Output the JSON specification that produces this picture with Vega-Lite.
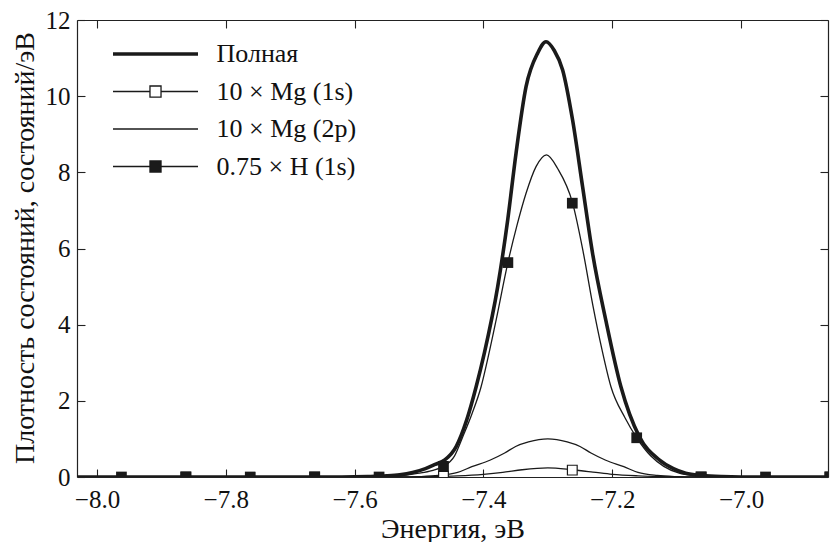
{
  "$schema": "https://vega.github.io/schema/vega-lite/v6.json",
  "width": 751,
  "height": 457,
  "autosize": {"type": "none"},
  "padding": {"left": 77, "top": 20, "right": 2, "bottom": 65},
  "background": "white",
  "config": {
    "view": {"stroke": null},
    "font": "Liberation Serif",
    "axis": {"labelFont": "Liberation Serif", "titleFont": "Liberation Serif", "labelColor": "#111", "titleColor": "#111", "domainColor": "#222", "tickColor": "#222", "domainWidth": 1.2, "tickWidth": 1.1, "grid": false},
    "legend": {"labelFont": "Liberation Serif"}
  },
  "datasets": {
    "curves": [
      {"E": -8.04, "v": 0, "s": "Полная"}, {"E": -7.62, "v": 0, "s": "Полная"}, {"E": -7.58, "v": 0.01, "s": "Полная"}, {"E": -7.55, "v": 0.03, "s": "Полная"}, {"E": -7.53, "v": 0.06, "s": "Полная"}, {"E": -7.51, "v": 0.12, "s": "Полная"}, {"E": -7.49, "v": 0.22, "s": "Полная"}, {"E": -7.475, "v": 0.33, "s": "Полная"}, {"E": -7.46, "v": 0.45, "s": "Полная"}, {"E": -7.4423, "v": 0.8, "s": "Полная"}, {"E": -7.4259, "v": 1.5, "s": "Полная"}, {"E": -7.4113, "v": 2.37, "s": "Полная"}, {"E": -7.3985, "v": 3.26, "s": "Полная"}, {"E": -7.3778, "v": 5.0, "s": "Полная"}, {"E": -7.3623, "v": 6.75, "s": "Полная"}, {"E": -7.3493, "v": 8.51, "s": "Полная"}, {"E": -7.3338, "v": 10.25, "s": "Полная"}, {"E": -7.3158, "v": 11.13, "s": "Полная"}, {"E": -7.3028, "v": 11.43, "s": "Полная"}, {"E": -7.29, "v": 11.2, "s": "Полная"}, {"E": -7.277, "v": 10.69, "s": "Полная"}, {"E": -7.2616, "v": 9.38, "s": "Полная"}, {"E": -7.246, "v": 7.62, "s": "Полная"}, {"E": -7.2305, "v": 5.87, "s": "Полная"}, {"E": -7.21, "v": 4.12, "s": "Полная"}, {"E": -7.1865, "v": 2.37, "s": "Полная"}, {"E": -7.158, "v": 1.06, "s": "Полная"}, {"E": -7.127, "v": 0.45, "s": "Полная"}, {"E": -7.105, "v": 0.22, "s": "Полная"}, {"E": -7.086, "v": 0.1, "s": "Полная"}, {"E": -7.06, "v": 0.04, "s": "Полная"}, {"E": -7.03, "v": 0.01, "s": "Полная"}, {"E": -7.0, "v": 0, "s": "Полная"}, {"E": -6.86, "v": 0, "s": "Полная"},
      {"E": -8.04, "v": 0, "s": "10 × Mg (1s)"}, {"E": -7.52, "v": 0, "s": "10 × Mg (1s)"}, {"E": -7.48, "v": 0.01, "s": "10 × Mg (1s)"}, {"E": -7.44, "v": 0.03, "s": "10 × Mg (1s)"}, {"E": -7.4, "v": 0.07, "s": "10 × Mg (1s)"}, {"E": -7.37, "v": 0.12, "s": "10 × Mg (1s)"}, {"E": -7.34, "v": 0.19, "s": "10 × Mg (1s)"}, {"E": -7.3, "v": 0.24, "s": "10 × Mg (1s)"}, {"E": -7.262, "v": 0.19, "s": "10 × Mg (1s)"}, {"E": -7.23, "v": 0.13, "s": "10 × Mg (1s)"}, {"E": -7.2, "v": 0.07, "s": "10 × Mg (1s)"}, {"E": -7.16, "v": 0.03, "s": "10 × Mg (1s)"}, {"E": -7.12, "v": 0.01, "s": "10 × Mg (1s)"}, {"E": -7.08, "v": 0, "s": "10 × Mg (1s)"}, {"E": -6.86, "v": 0, "s": "10 × Mg (1s)"},
      {"E": -8.04, "v": 0, "s": "10 × Mg (2p)"}, {"E": -7.53, "v": 0, "s": "10 × Mg (2p)"}, {"E": -7.5, "v": 0.01, "s": "10 × Mg (2p)"}, {"E": -7.47, "v": 0.04, "s": "10 × Mg (2p)"}, {"E": -7.44, "v": 0.12, "s": "10 × Mg (2p)"}, {"E": -7.418, "v": 0.27, "s": "10 × Mg (2p)"}, {"E": -7.39, "v": 0.44, "s": "10 × Mg (2p)"}, {"E": -7.367, "v": 0.63, "s": "10 × Mg (2p)"}, {"E": -7.35, "v": 0.8, "s": "10 × Mg (2p)"}, {"E": -7.33, "v": 0.92, "s": "10 × Mg (2p)"}, {"E": -7.3, "v": 1.0, "s": "10 × Mg (2p)"}, {"E": -7.27, "v": 0.92, "s": "10 × Mg (2p)"}, {"E": -7.25, "v": 0.8, "s": "10 × Mg (2p)"}, {"E": -7.233, "v": 0.63, "s": "10 × Mg (2p)"}, {"E": -7.21, "v": 0.44, "s": "10 × Mg (2p)"}, {"E": -7.182, "v": 0.27, "s": "10 × Mg (2p)"}, {"E": -7.16, "v": 0.12, "s": "10 × Mg (2p)"}, {"E": -7.13, "v": 0.04, "s": "10 × Mg (2p)"}, {"E": -7.1, "v": 0.01, "s": "10 × Mg (2p)"}, {"E": -7.07, "v": 0, "s": "10 × Mg (2p)"}, {"E": -6.86, "v": 0, "s": "10 × Mg (2p)"},
      {"E": -8.04, "v": 0, "s": "0.75 × H (1s)"}, {"E": -7.58, "v": 0, "s": "0.75 × H (1s)"}, {"E": -7.55, "v": 0.01, "s": "0.75 × H (1s)"}, {"E": -7.52, "v": 0.05, "s": "0.75 × H (1s)"}, {"E": -7.5, "v": 0.1, "s": "0.75 × H (1s)"}, {"E": -7.48, "v": 0.17, "s": "0.75 × H (1s)"}, {"E": -7.462, "v": 0.28, "s": "0.75 × H (1s)"}, {"E": -7.445, "v": 0.55, "s": "0.75 × H (1s)"}, {"E": -7.432, "v": 1.06, "s": "0.75 × H (1s)"}, {"E": -7.418, "v": 1.65, "s": "0.75 × H (1s)"}, {"E": -7.4036, "v": 2.37, "s": "0.75 × H (1s)"}, {"E": -7.392, "v": 3.2, "s": "0.75 × H (1s)"}, {"E": -7.3803, "v": 4.12, "s": "0.75 × H (1s)"}, {"E": -7.362, "v": 5.63, "s": "0.75 × H (1s)"}, {"E": -7.348, "v": 6.6, "s": "0.75 × H (1s)"}, {"E": -7.3338, "v": 7.45, "s": "0.75 × H (1s)"}, {"E": -7.3183, "v": 8.15, "s": "0.75 × H (1s)"}, {"E": -7.302, "v": 8.46, "s": "0.75 × H (1s)"}, {"E": -7.2848, "v": 8.1, "s": "0.75 × H (1s)"}, {"E": -7.2615, "v": 7.19, "s": "0.75 × H (1s)"}, {"E": -7.245, "v": 5.9, "s": "0.75 × H (1s)"}, {"E": -7.23, "v": 4.5, "s": "0.75 × H (1s)"}, {"E": -7.216, "v": 3.35, "s": "0.75 × H (1s)"}, {"E": -7.202, "v": 2.37, "s": "0.75 × H (1s)"}, {"E": -7.18, "v": 1.55, "s": "0.75 × H (1s)"}, {"E": -7.162, "v": 1.03, "s": "0.75 × H (1s)"}, {"E": -7.14, "v": 0.55, "s": "0.75 × H (1s)"}, {"E": -7.12, "v": 0.28, "s": "0.75 × H (1s)"}, {"E": -7.096, "v": 0.1, "s": "0.75 × H (1s)"}, {"E": -7.07, "v": 0.03, "s": "0.75 × H (1s)"}, {"E": -7.04, "v": 0, "s": "0.75 × H (1s)"}, {"E": -6.86, "v": 0, "s": "0.75 × H (1s)"}
    ],
    "hmarks": [
      {"E": -7.962, "v": 0}, {"E": -7.862, "v": 0}, {"E": -7.762, "v": 0}, {"E": -7.662, "v": 0}, {"E": -7.562, "v": 0}, {"E": -7.462, "v": 0.28}, {"E": -7.362, "v": 5.63}, {"E": -7.262, "v": 7.19}, {"E": -7.162, "v": 1.03}, {"E": -7.062, "v": 0}, {"E": -6.962, "v": 0}, {"E": -6.862, "v": 0}
    ],
    "mgmarks": [
      {"E": -7.862, "v": 0}, {"E": -7.662, "v": 0}, {"E": -7.462, "v": 0.02}, {"E": -7.262, "v": 0.18}, {"E": -7.062, "v": 0}, {"E": -6.862, "v": 0}
    ]
  },
  "layer": [
    {
      "data": {"name": "curves"},
      "transform": [{"filter": "datum.s !== 'Полная'"}],
      "mark": {"type": "line", "interpolate": "monotone", "clip": true, "strokeWidth": 1.3},
      "encoding": {
        "x": {"field": "E", "type": "quantitative", "scale": {"domain": [-8.031, -6.865], "nice": false, "zero": false},
          "axis": {"orient": "bottom", "values": [-8, -7.8, -7.6, -7.4, -7.2, -7.0], "labelExpr": "replace(format(datum.value, '.1f'), '-', '\u2212')", "tickSize": -8, "labelFontSize": 25, "labelPadding": 38, "labelBaseline": "alphabetic", "title": "Энергия, эВ", "titleFontSize": 28, "titleFontWeight": "normal", "titleX": 375.5, "titleY": 60, "titleBaseline": "alphabetic", "titleAlign": "center", "titleAnchor": null}},
        "y": {"field": "v", "type": "quantitative", "scale": {"domain": [0, 12], "nice": false, "zero": false},
          "axis": {"orient": "left", "values": [0, 2, 4, 6, 8, 10, 12], "tickSize": -8, "labelFontSize": 25, "labelPadding": 15, "labelBaseline": "middle", "title": "Плотность состояний, состояний/эВ", "titleFontSize": 28, "titleFontWeight": "normal", "titleX": -44, "titleY": 227.5, "titleAngle": -90, "titleBaseline": "alphabetic", "titleAlign": "center", "titleAnchor": null}},
        "stroke": {"field": "s", "type": "nominal",
          "scale": {"domain": ["Полная", "10 × Mg (1s)", "10 × Mg (2p)", "0.75 × H (1s)"], "range": ["#1a1a1a", "#1a1a1a", "#1a1a1a", "#1a1a1a"]},
          "legend": {"title": null, "orient": "none", "legendX": 65.5, "legendY": 21, "padding": 0, "labelFontSize": 26, "labelColor": "#111", "labelOffset": 48, "rowPadding": 11.5, "symbolSize": 100, "symbolStrokeWidth": 1.3,
            "encode": {"symbols": {"update": {
              "shape": {"signal": "datum.value === 'Полная' || datum.value === '10 × Mg (2p)' ? 'M-1,0H1' : 'M-1,0H-0.13M0.13,0H1M-0.13,-0.13H0.13V0.13H-0.13Z'"},
              "fill": {"signal": "datum.value === '0.75 × H (1s)' ? '#1a1a1a' : 'white'"},
              "stroke": {"value": "#1a1a1a"},
              "strokeWidth": {"signal": "datum.value === 'Полная' ? 3.6 : 1.3"},
              "size": {"value": 7225}
            }}}}}
      }
    },
    {
      "data": {"name": "curves"},
      "transform": [{"filter": "datum.s === 'Полная'"}],
      "mark": {"type": "line", "interpolate": "monotone", "clip": true, "strokeWidth": 3.6},
      "encoding": {
        "x": {"field": "E", "type": "quantitative", "axis": null},
        "y": {"field": "v", "type": "quantitative", "axis": null},
        "stroke": {"field": "s", "type": "nominal"}
      }
    },
    {
      "data": {"name": "mgmarks"},
      "mark": {"type": "point", "shape": "square", "filled": true, "fill": "white", "stroke": "#1a1a1a", "strokeWidth": 1.2, "size": 95, "opacity": 1, "clip": true},
      "encoding": {
        "x": {"field": "E", "type": "quantitative", "axis": null},
        "y": {"field": "v", "type": "quantitative", "axis": null}
      }
    },
    {
      "data": {"name": "hmarks"},
      "mark": {"type": "point", "shape": "square", "filled": true, "color": "#1a1a1a", "size": 115, "opacity": 1, "clip": true},
      "encoding": {
        "x": {"field": "E", "type": "quantitative", "axis": {"orient": "top", "values": [-8, -7.8, -7.6, -7.4, -7.2, -7.0], "tickSize": -8, "labels": false, "title": null}},
        "y": {"field": "v", "type": "quantitative", "axis": {"orient": "right", "values": [0, 2, 4, 6, 8, 10, 12], "tickSize": -8, "labels": false, "title": null}}
      }
    }
  ],
  "resolve": {"axis": {"x": "independent", "y": "independent"}}
}
